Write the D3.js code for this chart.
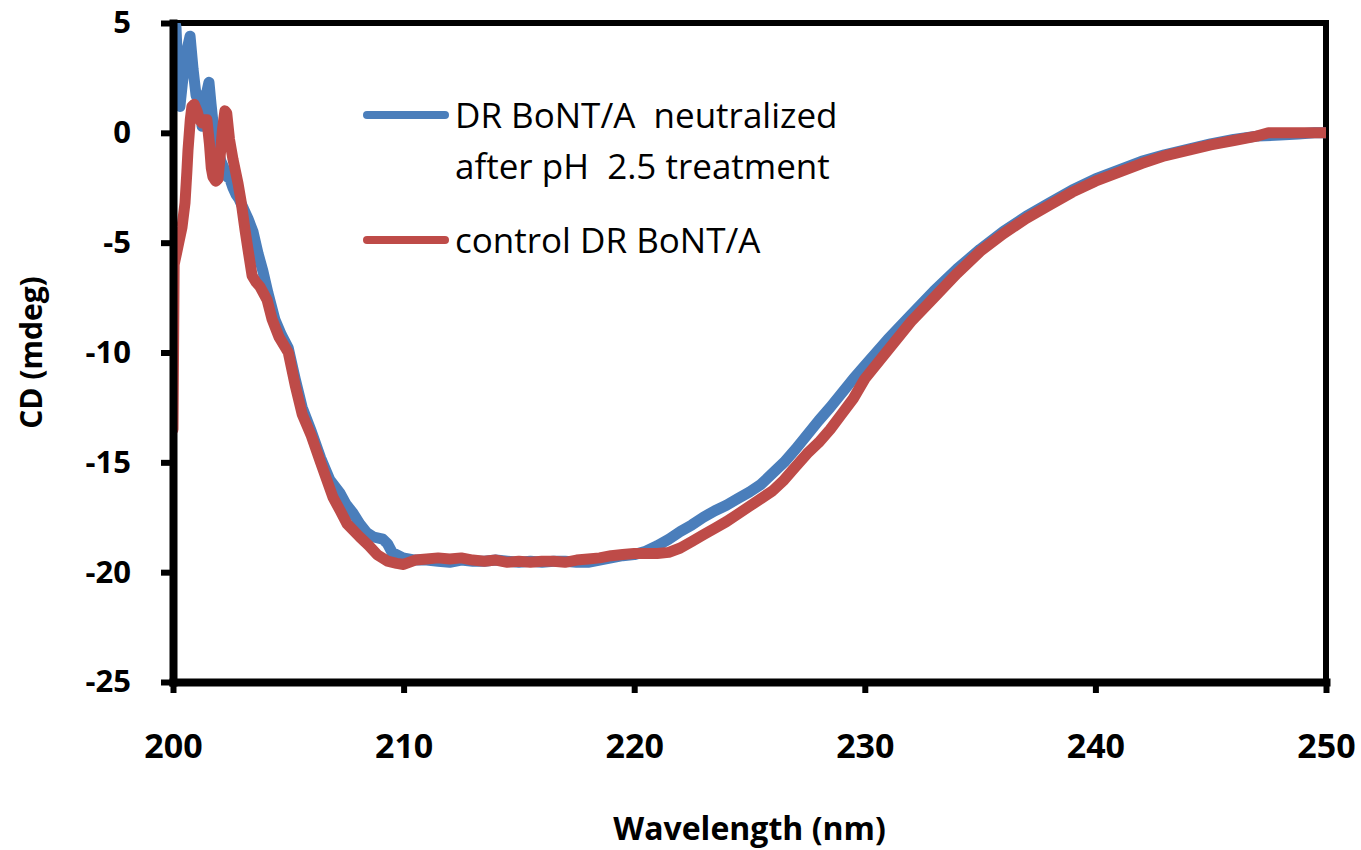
<!DOCTYPE html>
<html>
<head>
<meta charset="utf-8">
<script src="https://cdn.jsdelivr.net/npm/d3@7"></script>
<style>
  body { margin: 0; background: #fff; }
  svg { display: block; }
</style>
</head>
<body>
<svg class="chart" width="1361" height="850"></svg>
<script>
// wavelength (nm) and CD (mdeg)
const neutralizedWl = [200.0,200.13,200.22,200.3,200.4,200.55,200.74,200.87,201.0,201.13,201.2,201.26,201.39,201.56,201.65,201.73,201.85,201.95,202.08,202.21,202.35,202.47,202.6,202.73,202.86,202.99,203.12,203.25,203.47,203.69,203.9,204.12,204.42,204.7,205.0,205.3,205.6,206.0,206.4,206.8,207.24,207.5,207.8,208.1,208.4,208.7,209.1,209.3,209.5,209.97,210.5,211,211.5,212,212.5,213,213.5,214,214.5,215,215.5,216,216.5,217,217.5,218,218.5,219,219.5,220,220.5,221,221.5,222,222.5,223,223.5,224,224.5,225,225.5,226,226.5,227,227.5,228,228.5,229,229.5,230,231,232,233,234,235,236,237,238,239,240,241,242,243,244,245,246,247,248,248.8,249.5,250];
const neutralizedCd = [5.5,4.8,2.5,1.2,2.2,3.5,4.4,2.9,1.7,1.7,1.0,0.3,1.5,2.3,1.3,0.5,-0.3,-0.8,-1.3,-1.6,-2.0,-2.1,-2.5,-2.8,-3.0,-3.3,-3.6,-3.9,-4.5,-5.5,-6.3,-7.3,-8.5,-9.2,-9.8,-11.2,-12.5,-13.6,-14.8,-15.8,-16.4,-16.9,-17.3,-17.8,-18.2,-18.4,-18.5,-18.7,-19.1,-19.35,-19.45,-19.45,-19.5,-19.55,-19.45,-19.5,-19.5,-19.45,-19.5,-19.55,-19.5,-19.55,-19.5,-19.5,-19.55,-19.55,-19.45,-19.35,-19.25,-19.2,-19.05,-18.8,-18.5,-18.15,-17.85,-17.5,-17.2,-16.95,-16.65,-16.35,-16.0,-15.5,-15.0,-14.4,-13.75,-13.1,-12.5,-11.85,-11.2,-10.6,-9.4,-8.3,-7.2,-6.2,-5.3,-4.5,-3.8,-3.2,-2.6,-2.1,-1.7,-1.3,-1.0,-0.75,-0.5,-0.3,-0.15,-0.1,-0.05,0,0];

const controlWl = [200.0,200.05,200.09,200.25,200.39,200.52,200.6,200.65,200.75,200.82,200.92,201.04,201.15,201.26,201.37,201.47,201.58,201.66,201.73,201.85,201.95,202.05,202.15,202.25,202.33,202.45,202.6,202.72,202.82,202.95,203.12,203.25,203.43,203.6,203.77,204.08,204.3,204.6,205.0,205.3,205.6,206.0,206.4,206.94,207.25,207.55,208.1,208.5,208.85,209.3,209.7,210.0,210.5,211,211.5,212,212.5,213,213.5,214,214.5,215,215.5,216,216.5,217,217.5,218,218.5,219,219.5,220,220.5,221,221.5,222,222.5,223,223.5,224,224.5,225,225.5,226,226.5,227,227.5,228,228.5,229,229.5,230,231,232,233,234,235,236,237,238,239,240,241,242,243,244,245,246,247,247.5,248,249,250];
const controlCd = [-13.5,-6.0,-5.8,-5.0,-4.3,-3.2,-1.8,-0.8,0.6,1.2,1.3,1.0,0.6,0.45,0.6,0.6,-0.5,-1.6,-2.0,-2.2,-2.1,-1.0,0.2,1.0,0.9,-0.3,-1.2,-1.8,-2.3,-3.1,-4.4,-5.3,-6.5,-6.8,-7.0,-7.6,-8.5,-9.3,-10.0,-11.5,-12.8,-13.8,-15.0,-16.6,-17.2,-17.8,-18.4,-18.8,-19.2,-19.5,-19.6,-19.65,-19.45,-19.4,-19.35,-19.4,-19.35,-19.45,-19.5,-19.45,-19.55,-19.5,-19.55,-19.5,-19.5,-19.55,-19.45,-19.4,-19.35,-19.25,-19.2,-19.15,-19.15,-19.15,-19.1,-18.9,-18.6,-18.3,-18.0,-17.7,-17.35,-17.0,-16.65,-16.3,-15.8,-15.2,-14.6,-14.1,-13.5,-12.8,-12.1,-11.2,-9.9,-8.6,-7.5,-6.4,-5.4,-4.6,-3.9,-3.3,-2.7,-2.2,-1.8,-1.4,-1.05,-0.8,-0.55,-0.35,-0.15,0,0,0,0];

const xTicks = [200, 210, 220, 230, 240, 250];
const yTicks = [-25, -20, -15, -10, -5, 0, 5];
const seriesNames = ["DR BoNT/A  neutralized", "after pH  2.5 treatment", "control DR BoNT/A"];

var svg = d3.select("svg.chart"),
    margin = {top: 23, right: 35, bottom: 168, left: 173},
    width = parseInt(svg.attr("width")) - margin.left - margin.right,
    height = parseInt(svg.attr("height")) - margin.top - margin.bottom;

var x = d3.scaleLinear().domain([200, 250]).range([0, width]);
var y = d3.scaleLinear().domain([-25, 5]).range([height, 0]);

var line = d3.line()
    .x(function(d) { return x(d[0]); })
    .y(function(d) { return y(d[1]); });

var g = svg.append("g").attr("transform", "translate(" + margin.left + "," + margin.top + ")");

g.append("clipPath").attr("id", "plot")
  .append("rect").attr("x", 0).attr("y", 0).attr("width", width).attr("height", height);

// top and right frame
g.append("path")
    .attr("d", "M0," + 0 + "H" + width + "V" + height)
    .attr("fill", "none")
    .attr("stroke", "#000")
    .attr("stroke-width", 6);

var lines = g.append("g").attr("clip-path", "url(#plot)");

lines.append("path")
    .datum(d3.zip(neutralizedWl, neutralizedCd))
    .attr("fill", "none")
    .attr("stroke", "#4A7EBB")
    .attr("stroke-width", 11)
    .attr("stroke-linejoin", "round")
    .attr("stroke-linecap", "round")
    .attr("d", line);

lines.append("path")
    .datum(d3.zip(controlWl, controlCd))
    .attr("fill", "none")
    .attr("stroke", "#BE4B48")
    .attr("stroke-width", 11)
    .attr("stroke-linejoin", "round")
    .attr("stroke-linecap", "round")
    .attr("d", line);

// axes (plain hyphen for negatives, like the original)
var fmt = function(d) { return String(d); };
var yAxis = g.append("g")
    .call(d3.axisLeft(y).tickValues(yTicks).tickFormat(fmt).tickSize(12).tickSizeOuter(0).tickPadding(30));
var xAxis = g.append("g")
    .attr("transform", "translate(0," + height + ")")
    .call(d3.axisBottom(x).tickValues(xTicks).tickFormat(fmt).tickSize(11).tickSizeOuter(0).tickPadding(41));

yAxis.select(".domain").attr("stroke-width", 8).attr("stroke-linecap", "square");
xAxis.select(".domain").attr("stroke-width", 8).attr("stroke-linecap", "square");
yAxis.selectAll(".tick line").attr("stroke-width", 6);
xAxis.selectAll(".tick line").attr("stroke-width", 6);

yAxis.selectAll("text")
    .attr("font-family", "Open Sans")
    .attr("font-weight", 700)
    .attr("font-size", 31)
    .attr("fill", "#000");
xAxis.selectAll("text")
    .attr("font-family", "Open Sans")
    .attr("font-weight", 700)
    .attr("font-size", 34)
    .attr("fill", "#000");

// axis titles
svg.append("text")
    .attr("x", margin.left + width / 2)
    .attr("y", 840)
    .attr("text-anchor", "middle")
    .attr("font-family", "Open Sans")
    .attr("font-weight", 700)
    .attr("font-size", 32)
    .text("Wavelength (nm)");

svg.append("text")
    .attr("transform", "translate(42," + (margin.top + height / 2) + ") rotate(-90)")
    .attr("text-anchor", "middle")
    .attr("font-family", "Open Sans")
    .attr("font-weight", 700)
    .attr("font-size", 30)
    .text("CD (mdeg)");

// legend
var legend = svg.append("g");
legend.append("line")
    .attr("x1", 367).attr("x2", 445).attr("y1", 115).attr("y2", 115)
    .attr("stroke", "#4A7EBB").attr("stroke-width", 8).attr("stroke-linecap", "round");
legend.append("line")
    .attr("x1", 367).attr("x2", 445).attr("y1", 240).attr("y2", 240)
    .attr("stroke", "#BE4B48").attr("stroke-width", 8).attr("stroke-linecap", "round");

var legendY = [128, 179, 253];
legend.selectAll("text.lbl")
    .data(seriesNames)
    .enter().append("text")
    .attr("class", "lbl")
    .attr("x", 455)
    .attr("y", function(d, i) { return legendY[i]; })
    .attr("font-family", "Open Sans")
    .attr("font-size", 35)
    .attr("fill", "#000")
    .style("white-space", "pre")
    .text(function(d) { return d; });
</script>
</body>
</html>
